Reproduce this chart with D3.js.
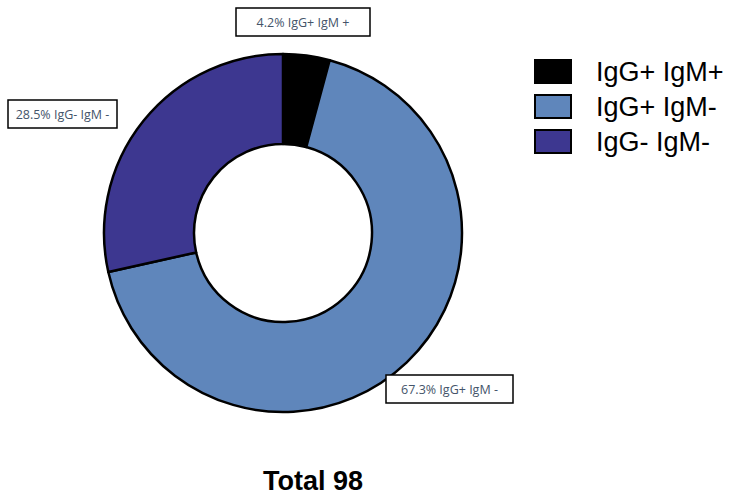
<!DOCTYPE html>
<html>
<head>
<meta charset="utf-8">
<script src="https://cdn.jsdelivr.net/npm/d3@7"></script>
<style>
  body { margin: 0; background: #fff; }
  svg { display: block; }
</style>
</head>
<body>
<div id="wrapper"></div>
<script>
// data
const categories = ["IgG+ IgM+", "IgG+ IgM-", "IgG- IgM-"]
const percents = [4.2, 67.3, 28.5]
const calloutText = ["4.2% IgG+ IgM +", "67.3% IgG+ IgM -", "28.5% IgG- IgM -"]
const totalLabel = "Total 98"
const colors = ["#000000", "#5f86bb", "#3d3790"]

const width = 750
const height = 501
const svg = d3.select("#wrapper").append("svg")
    .attr("width", width)
    .attr("height", height)

const cx = 283, cy = 233
const outerR = 179, innerR = 89

const pie = d3.pie().sort(null).value(d => d)
const arcs = pie(percents)
const arcGen = d3.arc().innerRadius(innerR).outerRadius(outerR)

const donut = svg.append("g").attr("transform", `translate(${cx},${cy})`)
donut.selectAll("path")
    .data(arcs)
    .enter().append("path")
    .attr("d", arcGen)
    .attr("fill", (d, i) => colors[i])
    .attr("stroke", "#000")
    .attr("stroke-width", 2.5)
    .attr("stroke-linejoin", "round")

// callout boxes (placed by hand like in the original)
const boxes = [
    {x: 236, y: 8, w: 134, h: 28},
    {x: 386, y: 375, w: 127, h: 28},
    {x: 8, y: 100, w: 109, h: 28},
]
const callouts = svg.append("g")
boxes.forEach((b, i) => {
    callouts.append("rect")
        .attr("x", b.x).attr("y", b.y)
        .attr("width", b.w).attr("height", b.h)
        .attr("fill", "#fff")
        .attr("stroke", "#000")
        .attr("stroke-width", 1.5)
    callouts.append("text")
        .attr("x", b.x + b.w / 2)
        .attr("y", b.y + b.h / 2 + 4.5)
        .attr("text-anchor", "middle")
        .attr("font-family", "Open Sans, sans-serif")
        .attr("font-size", 12.5)
        .attr("fill", "#44546a")
        .text(calloutText[i])
})

// legend
const legend = svg.append("g").attr("transform", "translate(535,60)")
const rows = legend.selectAll("g")
    .data(categories)
    .enter().append("g")
    .attr("transform", (d, i) => `translate(0,${i * 35})`)
rows.append("rect")
    .attr("width", 36).attr("height", 23)
    .attr("fill", (d, i) => colors[i])
    .attr("stroke", "#000")
    .attr("stroke-width", 2)
rows.append("text")
    .attr("x", 61)
    .attr("y", 21)
    .attr("font-family", "Liberation Sans, Arial, sans-serif")
    .attr("font-size", 27)
    .attr("fill", "#000")
    .text(d => d)

//add total
svg.append("text")
    .attr("x", 313)
    .attr("y", 490)
    .attr("text-anchor", "middle")
    .attr("font-family", "Liberation Sans, Arial, sans-serif")
    .attr("font-weight", "bold")
    .attr("font-size", 27)
    .text(totalLabel)
</script>
</body>
</html>
